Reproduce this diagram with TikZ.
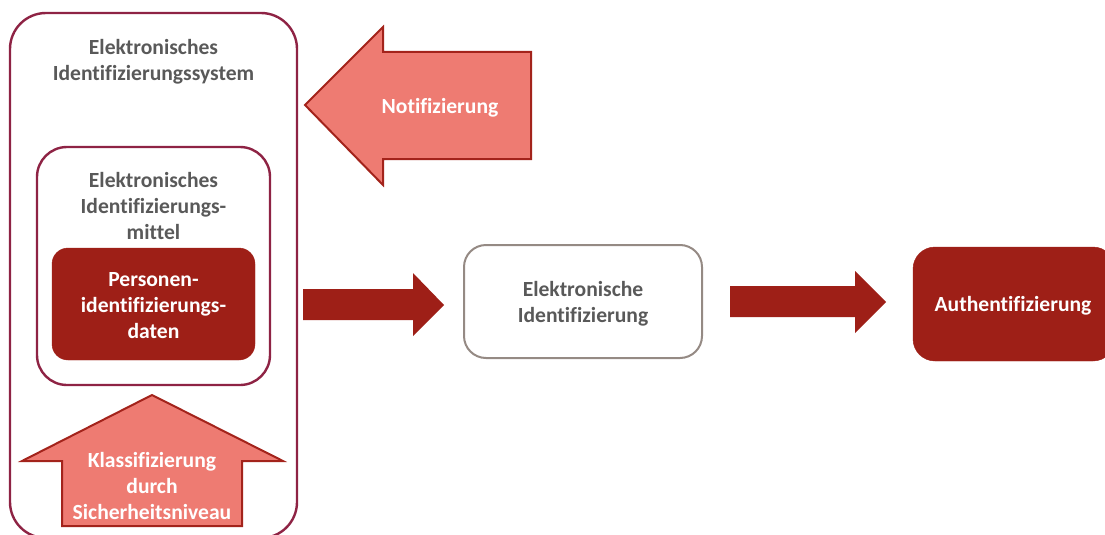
\documentclass[tikz,border=0pt]{standalone}
\usepackage{fontspec}
\setmainfont[Ligatures=NoCommon]{Carlito}
\definecolor{frame}{HTML}{8E2344}
\definecolor{deepred}{HTML}{9E1F17}
\definecolor{salmon}{HTML}{EE7B72}
\definecolor{salmonline}{HTML}{A3231B}
\definecolor{greyline}{HTML}{958A84}
\definecolor{label}{HTML}{595959}
\tikzset{
  x=1pt, y=-1pt,
  txt/.style={font=\fontsize{21.6}{26}\selectfont\bfseries, align=center, inner sep=0pt},
  darktxt/.style={txt, text=label},
  lighttxt/.style={txt, text=white},
  frameline/.style={draw=frame, line width=2.4pt},
  blockarrow/.style={fill=salmon, draw=salmonline, line width=2pt, line join=miter},
  flowarrow/.style={fill=deepred},
}
\begin{document}
\begin{tikzpicture}
\useasboundingbox (0,0) rectangle (1105,535);
% outer system box
\draw[frameline, rounded corners=36pt] (10,13) rectangle (297,538);
\node[darktxt] (sys) at (153.5,62) {Elektronisches\\Identifizierungssystem};
% inner means box
\draw[frameline, rounded corners=30pt] (37,147) rectangle (270,385);
\node[darktxt] (means) at (153.5,206) {Elektronisches\\Identifizierungs-\\mittel};
% personal identification data
\draw[deepred, fill=deepred, rounded corners=16pt] (52,248) rectangle (255,360);
\node[lighttxt] (pid) at (153.5,306) {Personen-\\identifizierungs-\\daten};
% classification arrow pointing up
\draw[blockarrow] (152,395) -- (283,461) -- (242,461) -- (242,526) -- (62,526) -- (62,461) -- (22,461) -- cycle;
\node[lighttxt] (klass) at (152,486) {Klassifizierung\\durch\\Sicherheitsniveau};
% notification arrow pointing left
\draw[blockarrow] (305,105) -- (383,27) -- (383,52) -- (531,52) -- (531,159) -- (383,159) -- (383,185) -- cycle;
\node[lighttxt] (notif) at (440,108) {Notifizierung};
% electronic identification box
\draw[draw=greyline, line width=2pt, rounded corners=22pt] (464,245) rectangle (702,358);
\node[darktxt] (eid) at (583,304) {Elektronische\\Identifizierung};
% authentication box
\draw[deepred, fill=deepred, rounded corners=22pt] (913,247) rectangle (1115,361);
\node[lighttxt] (auth) at (1013,306) {Authentifizierung};
% flow arrows
\fill[flowarrow] (303,289) -- (413,289) -- (413,273) -- (444,305) -- (413,336) -- (413,320) -- (303,320) -- cycle;
\fill[flowarrow] (730,286) -- (855,286) -- (855,271) -- (886,302) -- (855,333) -- (855,317) -- (730,317) -- cycle;
\end{tikzpicture}
\end{document}
